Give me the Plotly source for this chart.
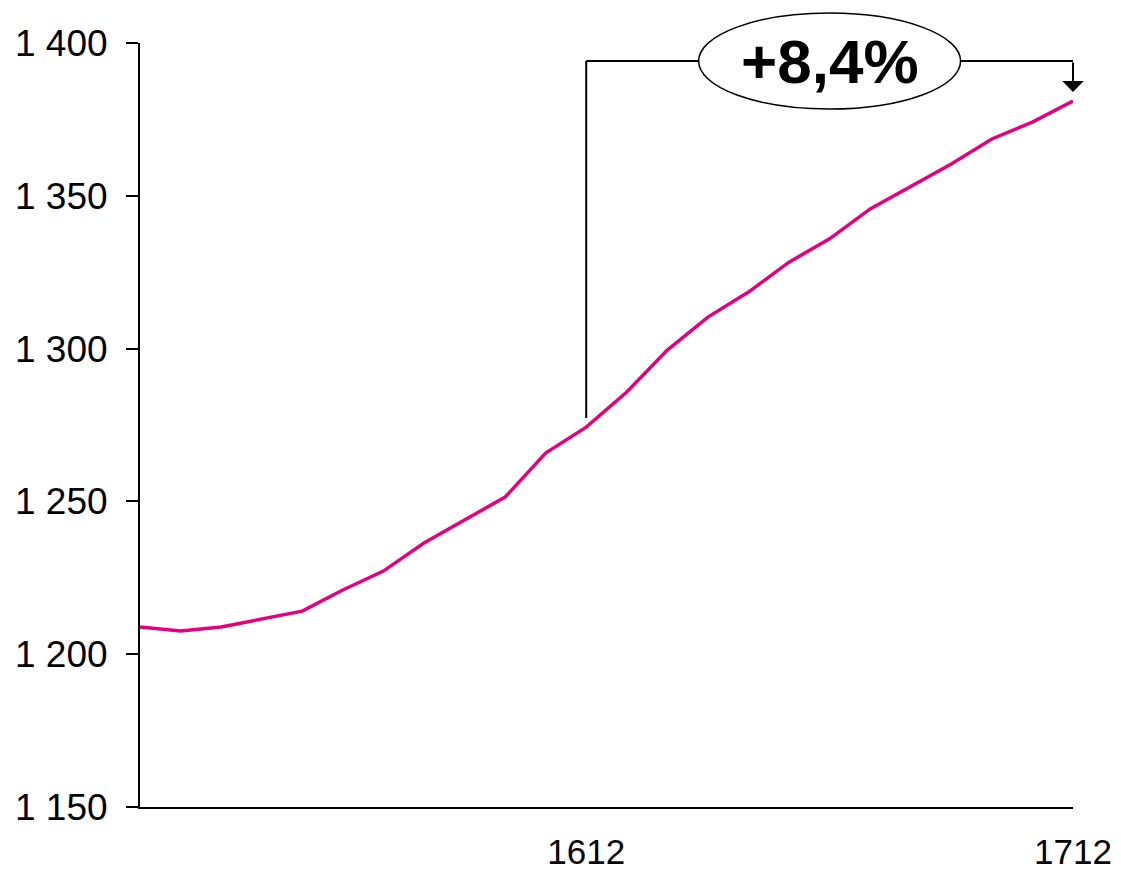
import plotly.graph_objects as go

months = ["1601", "1602", "1603", "1604", "1605", "1606", "1607", "1608", "1609", "1610", "1611", "1612",
          "1701", "1702", "1703", "1704", "1705", "1706", "1707", "1708", "1709", "1710", "1711", "1712"]
values = [1208.9, 1207.6, 1208.9, 1211.5, 1214.1, 1221.0, 1227.2, 1236.4, 1243.9, 1251.4, 1265.8, 1274.3,
          1285.8, 1299.5, 1310.3, 1318.5, 1328.3, 1335.9, 1345.7, 1353.2, 1360.4, 1368.6, 1374.1, 1381.0]
x_ticks = ["1612", "1712"]
y_ticks = [1150, 1200, 1250, 1300, 1350, 1400]
growth_label = "+8,4%"

FONT = "Arial, Liberation Sans, sans-serif"
MAGENTA = "#E6007E"
Y_MIN, Y_MAX = 1150, 1400

fig = go.Figure()
fig.add_trace(go.Scatter(x=months, y=values, mode="lines",
                         line=dict(color=MAGENTA, width=3.5), hoverinfo="skip", showlegend=False))

i0 = months.index(x_ticks[0])
i1 = months.index(x_ticks[1])
bracket_y = 1394.1
mid = (i0 + i1) / 2

fig.add_shape(type="line", xref="x", yref="y", x0=i0, x1=i0, y0=values[i0] + 3, y1=bracket_y,
              line=dict(color="black", width=2))
fig.add_shape(type="line", xref="x", yref="y", x0=i0, x1=i1, y0=bracket_y, y1=bracket_y,
              line=dict(color="black", width=2))
fig.add_shape(type="circle", xref="paper", yref="paper", xsizemode="pixel", ysizemode="pixel",
              xanchor=mid / (len(months) - 1), yanchor=(bracket_y - Y_MIN) / (Y_MAX - Y_MIN),
              x0=-131, x1=131, y0=-48, y1=48,
              line=dict(color="black", width=1.5), fillcolor="white")

fig.add_annotation(x=i1, y=values[i1] + 3, ax=i1, ay=bracket_y, xref="x", yref="y",
                   axref="x", ayref="y", showarrow=True, arrowhead=1, arrowsize=1.8,
                   arrowwidth=2, arrowcolor="black", text="")
fig.add_annotation(x=mid, y=bracket_y, xref="x", yref="y", text="<b>%s</b>" % growth_label,
                   showarrow=False, font=dict(family=FONT, size=62, color="black"))

fig.update_layout(
    width=1121, height=869,
    margin=dict(l=132, r=56, t=35, b=70),
    paper_bgcolor="white", plot_bgcolor="white",
    separators=", ",
    font=dict(family=FONT, size=37, color="black"),
    xaxis=dict(type="category", range=[0, len(months) - 1], tickvals=x_ticks, ticktext=x_ticks,
               showgrid=False, zeroline=False, showline=True, linecolor="black", linewidth=2,
               ticks="", tickfont=dict(size=35), ticklabelstandoff=13, automargin=False),
    yaxis=dict(range=[Y_MIN, Y_MAX], tickvals=y_ticks, tickformat=",d",
               showgrid=False, zeroline=False, showline=True, linecolor="black", linewidth=2,
               ticks="outside", ticklen=12, tickwidth=2, tickcolor="black",
               tickfont=dict(size=37), ticklabelstandoff=11, automargin=False),
)

fig.write_html("out.html")
